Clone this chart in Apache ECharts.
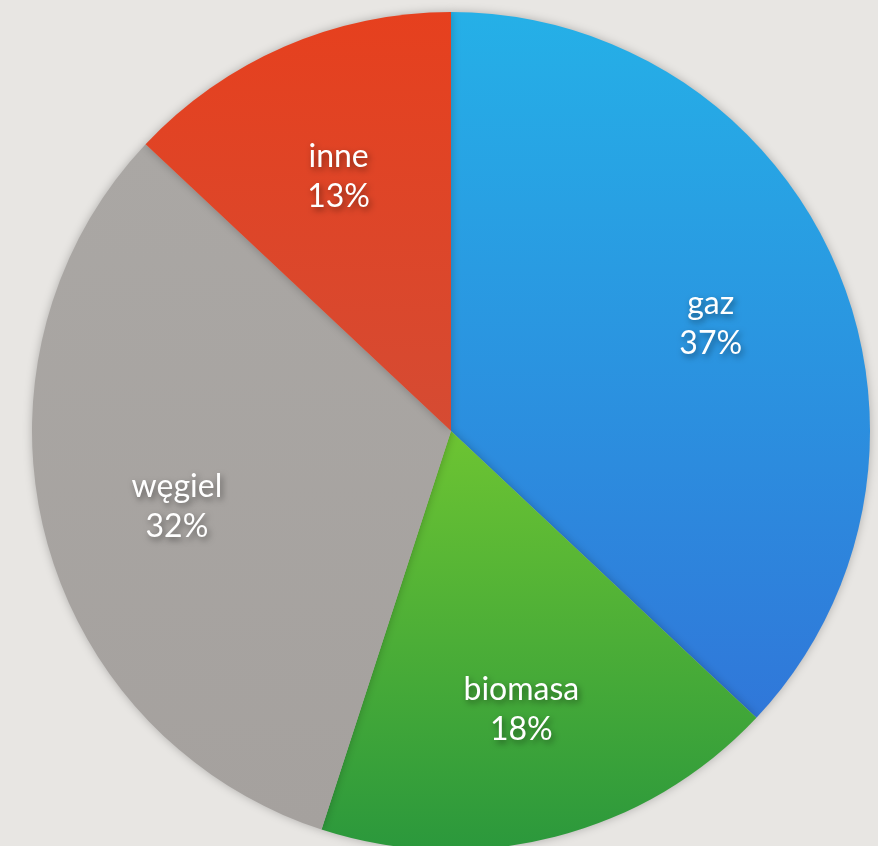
<!DOCTYPE html>
<html>
<head>
<meta charset="utf-8">
<script src="https://cdn.jsdelivr.net/npm/echarts@6/dist/echarts.min.js"></script>
<style>
  html, body { margin: 0; padding: 0; background: #e8e6e3; }
  #chart { width: 878px; height: 846px; }
</style>
</head>
<body>
<div id="chart"></div>
<script>
  // dane do wykresu
  var categories = ['gaz', 'biomasa', 'węgiel', 'inne'];
  var values = [37, 18, 32, 13];

  var colors = [
    ['#25b0e7', '#3077d9'],
    ['#6dc432', '#2b983c'],
    ['#aaa7a4', '#a5a19e'],
    ['#e6401e', '#d54b33']
  ];

  function grad(c) {
    return new echarts.graphic.LinearGradient(0, 0, 0, 1, [
      { offset: 0, color: c[0] },
      { offset: 1, color: c[1] }
    ]);
  }

  var pieData = categories.map(function (name, i) {
    return { name: name, value: values[i], itemStyle: { color: grad(colors[i]) } };
  });
  var labelData = categories.map(function (name, i) {
    return { name: name, value: values[i] };
  });

  var myChart = echarts.init(document.getElementById('chart'));
  myChart.setOption({
    backgroundColor: '#e8e6e3',
    animation: false,
    series: [{
        type: 'pie',
        center: [451, 431],
        radius: [0, 419],
        startAngle: 90,
        clockwise: true,
        label: { show: false },
        labelLine: { show: false },
        itemStyle: {
          borderWidth: 0,
          shadowBlur: 10,
          shadowColor: 'rgba(0,0,0,0.25)'
        },
        emphasis: { disabled: true },
        data: pieData
      },
      {
        // niewidoczna seria tylko na etykiety (dalej od srodka)
        type: 'pie',
        center: [451, 431],
        radius: [0, 560],
        startAngle: 90,
        clockwise: true,
        silent: true,
        itemStyle: { color: 'rgba(0,0,0,0)' },
        labelLine: { show: false },
        label: {
          show: true,
          position: 'inside',
          formatter: '{b}\n{d}%',
          offset: [0, 5],
          color: '#ffffff',
          fontFamily: 'Lato',
          fontSize: 32,
          lineHeight: 40,
          textShadowColor: 'rgba(0,0,0,0.45)',
          textShadowBlur: 6,
          textShadowOffsetX: 2,
          textShadowOffsetY: 3
        },
        emphasis: { disabled: true },
        data: labelData
      }
    ]
  });
</script>
</body>
</html>
